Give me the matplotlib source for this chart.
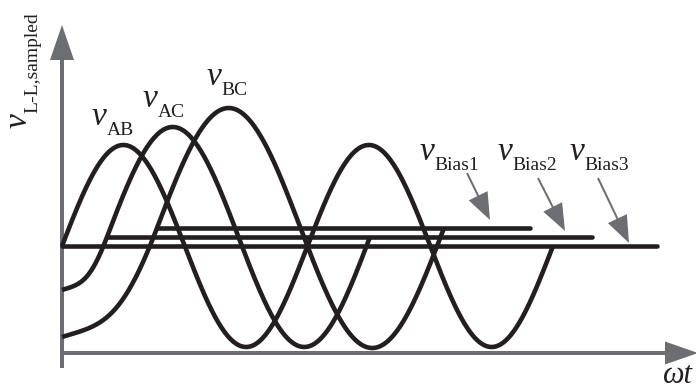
import numpy as np
import matplotlib
matplotlib.use('Agg')
import matplotlib.pyplot as plt

plt.rcParams['font.family'] = ['Liberation Serif', 'DejaVu Serif']

# bias levels (horizontal lines) - units are arbitrary, x ~ omega*t, y ~ volts
bias_labels = ['Bias1', 'Bias2', 'Bias3']
bias_levels = [125, 116, 107]
bias_starts = [95, 45, 0]
bias_ends = [468, 530, 595]

# sampled line-line voltages riding on the bias levels
phase_labels = ['AB', 'AC', 'BC']
phase_bias = [2, 1, 0]            # index into the bias lists
phase_amplitudes = [101, 110, 120]
phase_periods = [245.5, 263, 287]
phase_cycles = [2, 1, 1]
lead_in_start = [None, 63, 16]    # value at t = 0, before the wave reaches its bias

# label placement
phase_label_pos = [(30, 228), (81, 246), (145, 268)]
bias_label_pos = [(358, 193), (436, 193), (508, 193)]
pointer_tails = [(405, 180), (476, 175), (536, 175)]
pointer_tip_x = [428, 503, 567]
pointer_gap = [8, 6, 3]

BLACK = '#231f20'
GRAY = '#6d6e71'
LW = 3.3
V_SIZE = 24
SUB_SIZE = 14


def lead_in(y0, x1, y1, slope1, n=80):
    # cubic bezier from the axis up to where the sampled wave starts
    length = x1
    h1, h2 = 0.42 * length, 0.38 * length
    p0 = np.array([0.0, y0])
    p1 = np.array([h1, y0 + 0.3 * h1])
    p2 = np.array([x1 - h2, y1 - slope1 * h2])
    p3 = np.array([x1, y1])
    t = np.linspace(0, 1, n)[:, None]
    pts = (1 - t) ** 3 * p0 + 3 * (1 - t) ** 2 * t * p1 + 3 * (1 - t) * t ** 2 * p2 + t ** 3 * p3
    return pts[:, 0], pts[:, 1]


fig = plt.figure(figsize=(6.96, 3.90), dpi=100)
ax = fig.add_axes([0, 0, 1, 1])
ax.set_xlim(-62, 634)
ax.set_ylim(-37, 353)
ax.set_aspect('equal')
ax.axis('off')

# axes with arrow heads
ax.arrow(0, -15, 0, 343, width=4, head_width=24, head_length=35,
         length_includes_head=True, color=GRAY, linewidth=0, zorder=1)
ax.arrow(0, 0, 636, 0, width=4, head_width=23, head_length=33,
         length_includes_head=True, color=GRAY, linewidth=0, zorder=1)

# bias lines
for level, x0, x1 in zip(bias_levels, bias_starts, bias_ends):
    ax.plot([x0, x1], [level, level], color=BLACK, lw=LW, solid_capstyle='round', zorder=3)

# waves
for i in range(len(phase_labels)):
    b = phase_bias[i]
    level = bias_levels[b]
    x0 = bias_starts[b]
    amp = phase_amplitudes[i]
    period = phase_periods[i]
    xs = np.linspace(x0, x0 + phase_cycles[i] * period, 500)
    ys = level + amp * np.sin(2 * np.pi * (xs - x0) / period)
    if lead_in_start[i] is not None:
        lx, ly = lead_in(lead_in_start[i], x0, level, 2 * np.pi * amp / period)
        xs = np.concatenate([lx[:-1], xs])
        ys = np.concatenate([ly[:-1], ys])
    ax.plot(xs, ys, color=BLACK, lw=LW, solid_capstyle='butt', solid_joinstyle='round', zorder=3)

# pointer arrows to the bias lines
for (tx, ty), px, gap, level in zip(pointer_tails, pointer_tip_x, pointer_gap, bias_levels):
    ax.arrow(tx, ty, px - tx, level + gap - ty, width=2, head_width=21, head_length=27,
             length_includes_head=True, color=GRAY, linewidth=0, zorder=2)

# width of the italic v, used to place the subscripts
renderer = fig.canvas.get_renderer()
probe = ax.text(0, 0, 'v', fontsize=V_SIZE, style='italic')
v_width = probe.get_window_extent(renderer).width
probe.remove()


def v_label(x, y, sub, rotation=0, drop=10, gap=0):
    ax.text(x, y, 'v', fontsize=V_SIZE, style='italic', color=BLACK,
            ha='left', va='baseline', rotation=rotation, rotation_mode='anchor')
    a, b = v_width + gap, -drop
    if rotation == 90:
        a, b = -b, a
    ax.annotate(sub, xy=(x, y), xytext=(a, b), textcoords='offset pixels',
                fontsize=SUB_SIZE, color=BLACK, ha='left', va='baseline',
                rotation=rotation, rotation_mode='anchor')


for (x, y), sub in zip(phase_label_pos, phase_labels):
    v_label(x, y, sub)
for (x, y), sub in zip(bias_label_pos, bias_labels):
    v_label(x, y, sub)
v_label(-35, 225, 'L-L,sampled', rotation=90)

ax.text(601, -30, 'ωt', fontsize=22, style='italic', color=BLACK, ha='left', va='baseline')

fig.savefig('out.png', dpi=100)
